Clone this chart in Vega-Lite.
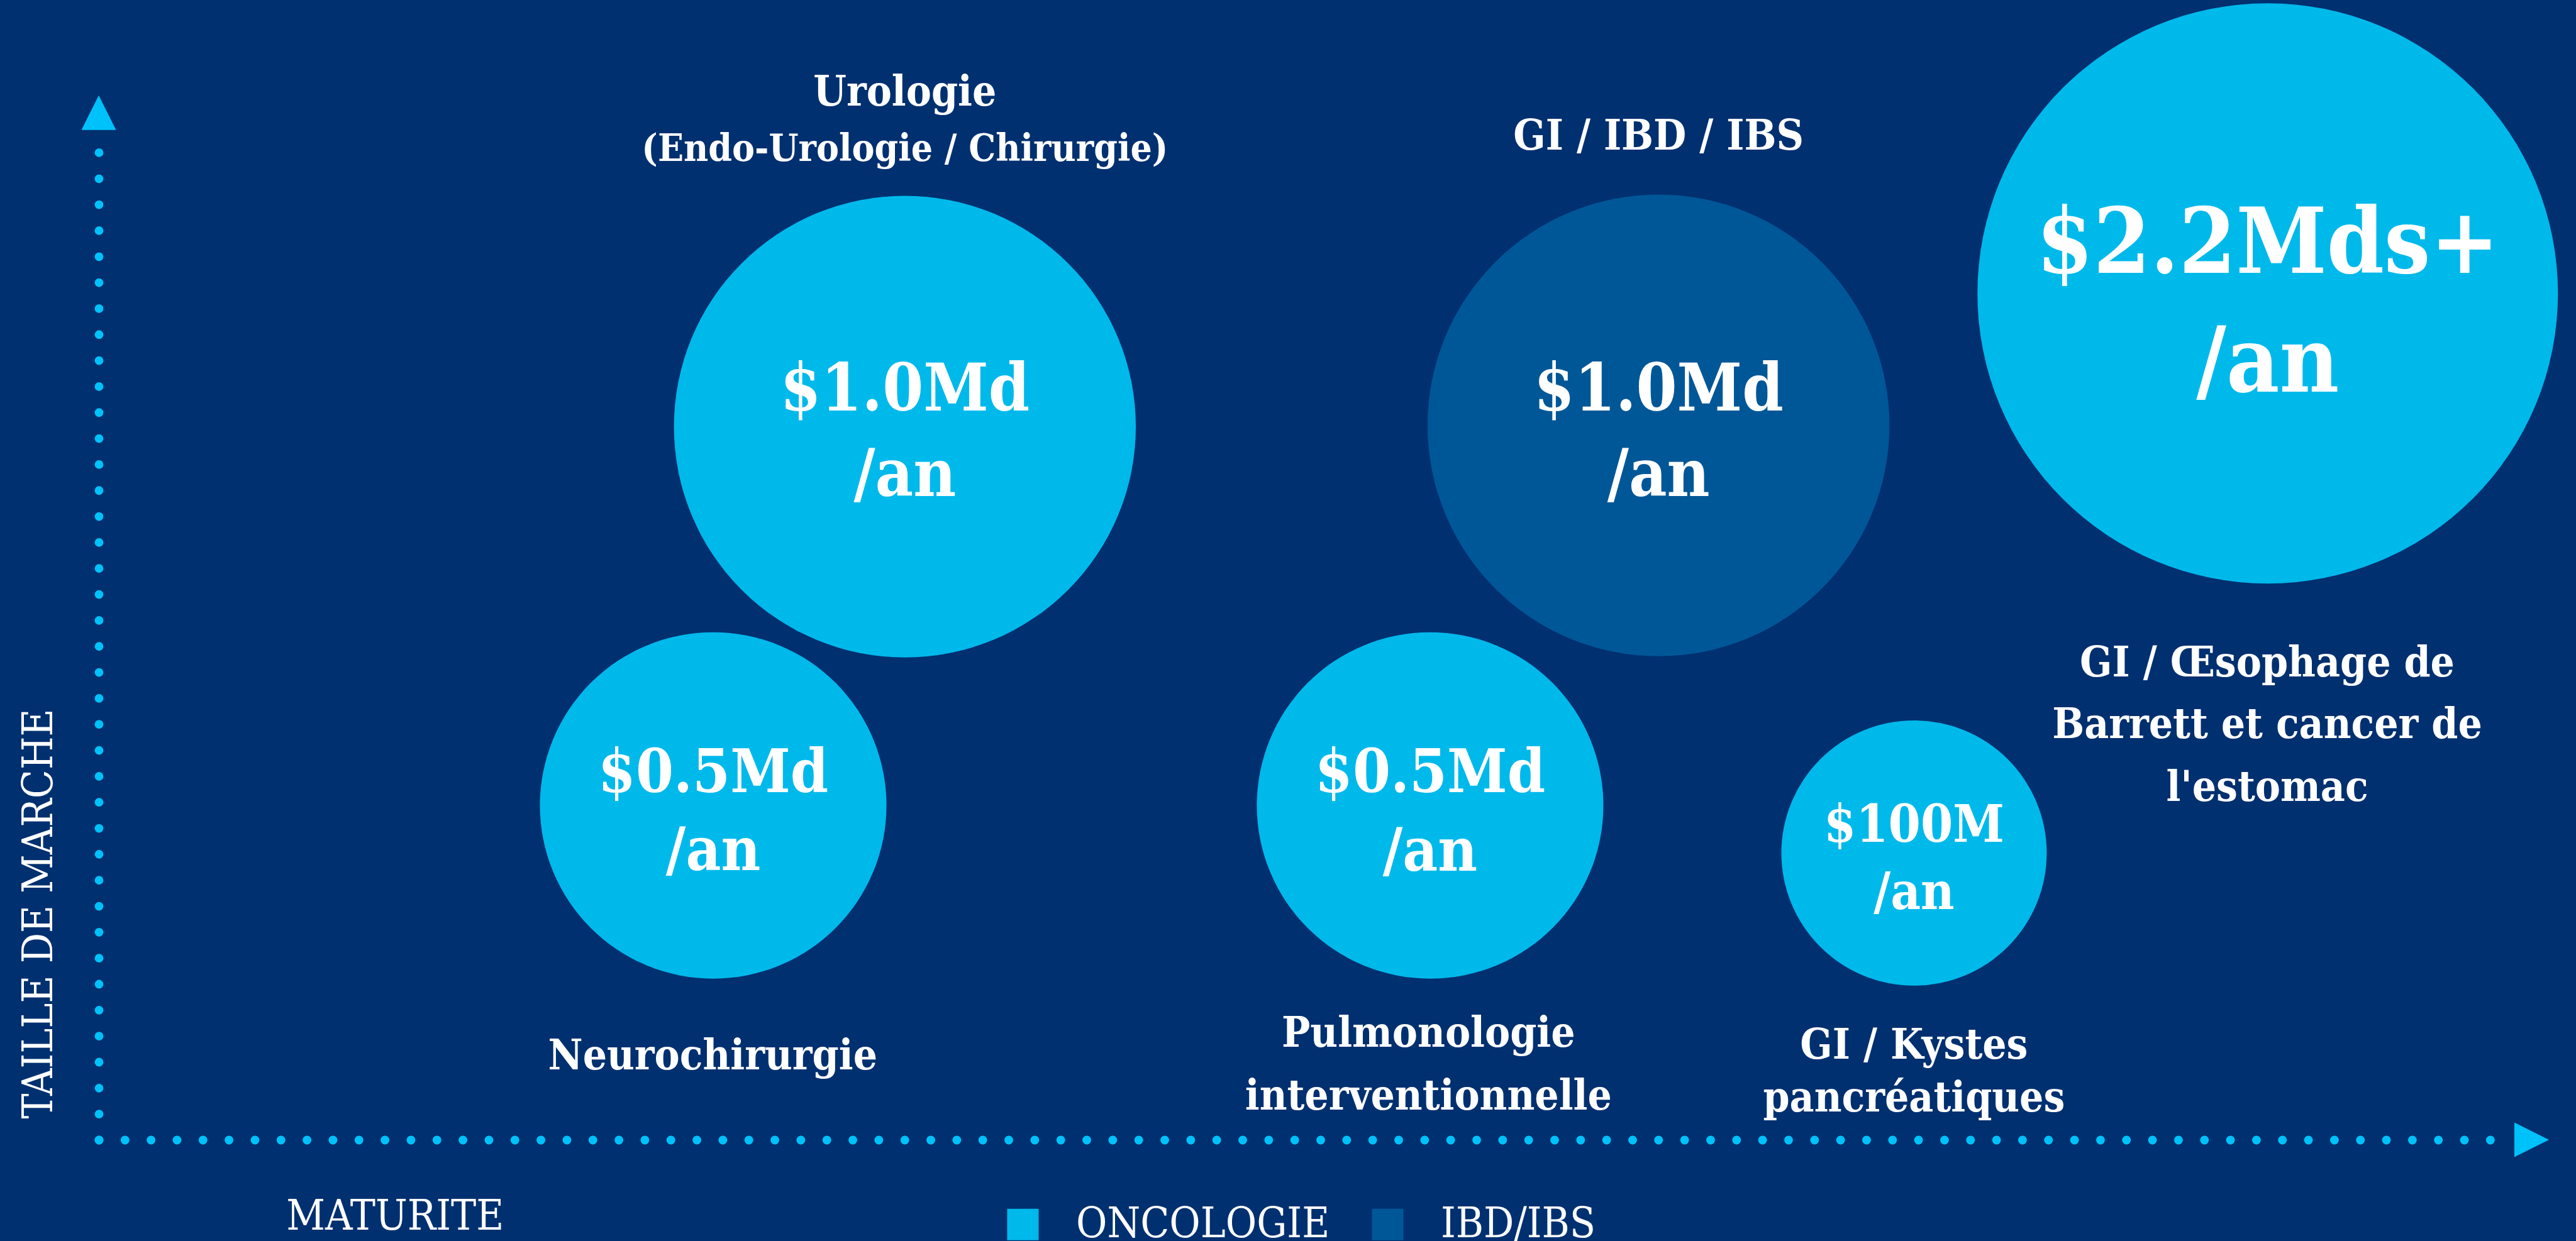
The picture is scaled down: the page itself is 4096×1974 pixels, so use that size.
{
  "$schema": "https://vega.github.io/schema/vega-lite/v6.json",
  "width": 3815,
  "height": 1580,
  "autosize": {"type": "none"},
  "padding": {"left": 157, "top": 233, "right": 124, "bottom": 161},
  "background": "#003070",
  "config": {
    "view": {"stroke": null},
    "axis": {"grid": false, "ticks": false, "labels": false, "domain": true, "domainColor": "#00C2FA", "domainWidth": 13.8, "domainDash": [0, 41.33], "domainCap": "round", "titleFont": "DejaVu Serif Condensed", "titleFontSize": 67, "titleFontWeight": "normal", "titleColor": "#FFFFFF", "titleBaseline": "alphabetic", "titleAlign": "center"}
  },
  "datasets": {
    "bulles": [
      {"domaine": "Urologie (Endo-Urologie / Chirurgie)", "segment": "ONCOLOGIE", "maturite": 33.60, "taille": 71.80, "marche": 1000},
      {"domaine": "GI / IBD / IBS", "segment": "IBD/IBS", "maturite": 65.01, "taille": 71.92, "marche": 1000},
      {"domaine": "GI / Œsophage de Barrett et cancer de l'estomac", "segment": "ONCOLOGIE", "maturite": 90.40, "taille": 85.21, "marche": 2200},
      {"domaine": "Neurochirurgie", "segment": "ONCOLOGIE", "maturite": 25.61, "taille": 33.66, "marche": 500},
      {"domaine": "Pulmonologie interventionnelle", "segment": "ONCOLOGIE", "maturite": 55.49, "taille": 33.66, "marche": 500},
      {"domaine": "GI / Kystes pancréatiques", "segment": "ONCOLOGIE", "maturite": 75.66, "taille": 28.87, "marche": 100}
    ],
    "valeurs": [
      {"texte": "$1.0Md", "maturite": 33.60, "taille": 73.39, "marche": 1000},
      {"texte": "/an", "maturite": 33.60, "taille": 64.78, "marche": 1000},
      {"texte": "$1.0Md", "maturite": 65.01, "taille": 73.39, "marche": 1000},
      {"texte": "/an", "maturite": 65.01, "taille": 64.78, "marche": 1000},
      {"texte": "$2.2Mds+", "maturite": 90.40, "taille": 87.28, "marche": 2200},
      {"texte": "/an", "maturite": 90.40, "taille": 75.29, "marche": 2200},
      {"texte": "$0.5Md", "maturite": 25.61, "taille": 35.03, "marche": 500},
      {"texte": "/an", "maturite": 25.61, "taille": 27.18, "marche": 500},
      {"texte": "$0.5Md", "maturite": 55.49, "taille": 34.97, "marche": 500},
      {"texte": "/an", "maturite": 55.49, "taille": 27.12, "marche": 500},
      {"texte": "$100M", "maturite": 75.66, "taille": 30.01, "marche": 100},
      {"texte": "/an", "maturite": 75.66, "taille": 23.25, "marche": 100}
    ],
    "libelles": [
      {"texte": "Urologie", "maturite": 33.60, "taille": 104.12},
      {"texte": "GI / IBD / IBS", "maturite": 65.01, "taille": 99.71},
      {"texte": "GI / Œsophage de", "maturite": 90.38, "taille": 46.63},
      {"texte": "Barrett et cancer de", "maturite": 90.38, "taille": 40.47},
      {"texte": "l'estomac", "maturite": 90.38, "taille": 34.09},
      {"texte": "Neurochirurgie", "maturite": 25.59, "taille": 7.12},
      {"texte": "Pulmonologie", "maturite": 55.42, "taille": 9.35},
      {"texte": "interventionnelle", "maturite": 55.42, "taille": 3.03},
      {"texte": "GI / Kystes", "maturite": 75.66, "taille": 8.16},
      {"texte": "pancréatiques", "maturite": 75.66, "taille": 2.87}
    ],
    "precisions": [
      {"texte": "(Endo-Urologie / Chirurgie)", "maturite": 33.60, "taille": 98.56}
    ],
    "fleches": [
      {"axe": "taille", "maturite": 0, "taille": 103.4},
      {"axe": "maturite", "maturite": 101.4, "taille": 0}
    ]
  },
  "layer": [
    {
      "data": {"name": "bulles"},
      "mark": {"type": "circle", "opacity": 1, "strokeWidth": 0},
      "encoding": {
        "x": {"field": "maturite", "type": "quantitative", "scale": {"domain": [0, 100], "nice": false, "zero": false}, "axis": {"title": "MATURITE", "titleX": 470.7, "titleY": 142.3}},
        "y": {"field": "taille", "type": "quantitative", "scale": {"domain": [0, 100], "nice": false, "zero": false}, "axis": {"title": "TAILLE DE MARCHE", "titleAngle": 270, "titleX": -75, "titleY": 1220}},
        "size": {"field": "marche", "type": "quantitative", "scale": {"type": "linear", "domain": [100, 500, 1000, 2200], "range": [178000, 303600, 539300, 851900]}, "legend": null},
        "color": {"field": "segment", "type": "nominal", "scale": {"domain": ["ONCOLOGIE", "IBD/IBS"], "range": ["#00B9EB", "#005797"]},
          "legend": {"title": null, "orient": "none", "legendX": 1436, "legendY": 1681, "direction": "horizontal", "symbolType": "square", "symbolSize": 2500, "symbolStrokeWidth": 0, "labelFont": "DejaVu Serif Condensed", "labelFontSize": 67, "labelColor": "#FFFFFF", "labelOffset": 51, "labelLimit": 1000, "columnPadding": 58, "padding": 0,
            "encode": {"symbols": {"update": {"fill": {"signal": "datum.value === 'ONCOLOGIE' ? '#40B4E6' : '#145694'"}, "opacity": {"value": 1}}}, "labels": {"update": {"dy": {"value": 5}}}}}}
      }
    },
    {
      "data": {"name": "valeurs"},
      "mark": {"type": "text", "font": "DejaVu Serif Condensed", "fontWeight": "bold", "fill": "#FFFFFF", "align": "center", "baseline": "alphabetic"},
      "encoding": {
        "x": {"field": "maturite", "type": "quantitative"},
        "y": {"field": "taille", "type": "quantitative"},
        "text": {"field": "texte"},
        "size": {"field": "marche", "type": "quantitative", "scale": {"type": "linear", "domain": [100, 500, 1000, 2200], "range": [82, 96, 104, 145]}, "legend": null}
      }
    },
    {
      "data": {"name": "libelles"},
      "mark": {"type": "text", "font": "DejaVu Serif Condensed", "fontWeight": "bold", "fontSize": 67, "fill": "#FFFFFF", "align": "center", "baseline": "alphabetic"},
      "encoding": {
        "x": {"field": "maturite", "type": "quantitative"},
        "y": {"field": "taille", "type": "quantitative"},
        "text": {"field": "texte"}
      }
    },
    {
      "data": {"name": "precisions"},
      "mark": {"type": "text", "font": "DejaVu Serif Condensed", "fontWeight": "bold", "fontSize": 60, "fill": "#FFFFFF", "align": "center", "baseline": "alphabetic"},
      "encoding": {
        "x": {"field": "maturite", "type": "quantitative"},
        "y": {"field": "taille", "type": "quantitative"},
        "text": {"field": "texte"}
      }
    },
    {
      "data": {"name": "fleches"},
      "mark": {"type": "point", "filled": true, "opacity": 1, "fill": "#00C2FA", "strokeWidth": 0, "size": 3025},
      "encoding": {
        "x": {"field": "maturite", "type": "quantitative"},
        "y": {"field": "taille", "type": "quantitative"},
        "shape": {"field": "axe", "type": "nominal", "scale": {"domain": ["taille", "maturite"], "range": ["M-1,1L0,-1L1,1Z", "M-1,-1L1,0L-1,1Z"]}, "legend": null}
      }
    }
  ],
  "resolve": {"scale": {"size": "independent", "shape": "independent"}}
}
